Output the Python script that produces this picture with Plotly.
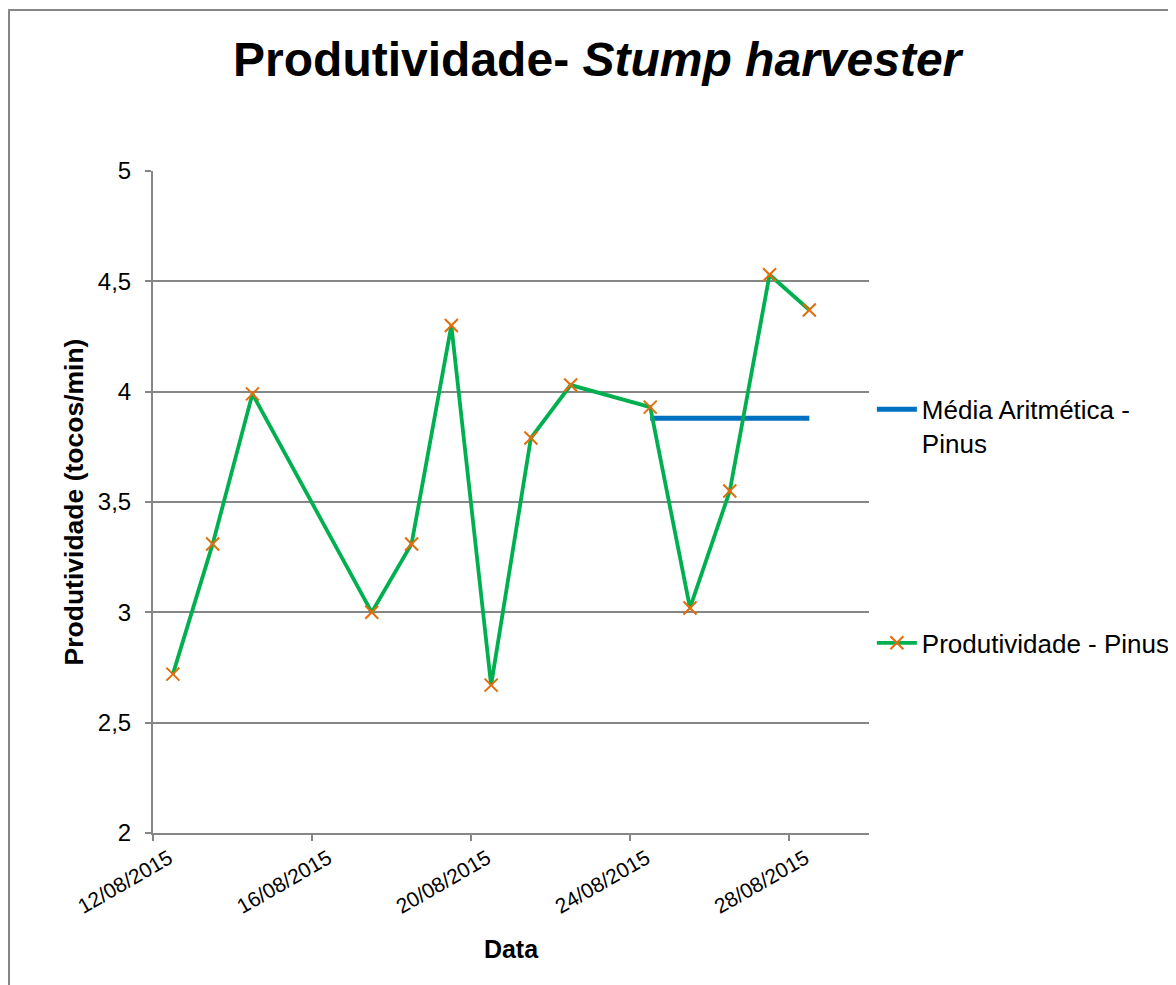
import plotly.graph_objects as go
import pandas as pd

# ---- data ----
dates = ["2015-08-12", "2015-08-13", "2015-08-14", "2015-08-17", "2015-08-18",
         "2015-08-19", "2015-08-20", "2015-08-21", "2015-08-22", "2015-08-24",
         "2015-08-25", "2015-08-26", "2015-08-27", "2015-08-28"]
produtividade = [2.72, 3.31, 3.99, 3.00, 3.31, 4.30, 2.67, 3.79, 4.03, 3.93,
                 3.02, 3.55, 4.53, 4.37]
media_dates = ["2015-08-24", "2015-08-25", "2015-08-26", "2015-08-27", "2015-08-28"]
media_values = [3.88, 3.88, 3.88, 3.88, 3.88]
tick_dates = ["2015-08-12", "2015-08-16", "2015-08-20", "2015-08-24", "2015-08-28"]
tick_labels = ["12/08/2015", "16/08/2015", "20/08/2015", "24/08/2015", "28/08/2015"]

# Excel-style date axis: each day occupies a slot; points sit mid-slot
half_day = pd.Timedelta(hours=12)
x_prod = pd.to_datetime(dates) + half_day
x_media = pd.to_datetime(media_dates) + half_day

FONT = "Liberation Sans, Arial, sans-serif"
GRAY = "#868686"

L, R, T, B = 145, 315, 163, 160
PW, PH = 1176 - L - R, 985 - T - B

fig = go.Figure()
fig.add_trace(go.Scatter(
    x=x_media, y=media_values, mode="lines",
    name="Média Aritmética -<br>Pinus",
    line=dict(color="#0070C0", width=5),
    legendgroup="a",
))
fig.add_trace(go.Scatter(
    x=x_prod, y=produtividade, mode="lines+markers",
    name="Produtividade - Pinus",
    line=dict(color="#00B050", width=3.8),
    marker=dict(symbol="x-thin", size=13, line=dict(width=2, color="#E46C0A"),
                color="#E46C0A"),
    legendgroup="b",
))

fig.update_layout(
    width=1176, height=985,
    margin=dict(l=L, r=R, t=T, b=B, autoexpand=False),
    paper_bgcolor="white", plot_bgcolor="white",
    separators=",.",
    font=dict(family=FONT, color="black", size=22),
    title=dict(
        text="<b>Produtividade- <i>Stump harvester</i></b>",
        x=0.501, xref="container", xanchor="center",
        y=0.948, yref="container", yanchor="middle",
        font=dict(family=FONT, size=48, color="black"),
    ),
    showlegend=True,
    legend=dict(
        x=1.004, xref="paper", xanchor="left",
        y=0.6755, yanchor="top",
        font=dict(family=FONT, size=26, color="black"),
        tracegroupgap=163,
        valign="top",
        bgcolor="rgba(0,0,0,0)",
        itemwidth=40,
    ),
    xaxis=dict(
        type="date",
        range=["2015-08-12", "2015-08-30"],
        tickvals=tick_dates, ticktext=tick_labels,
        tickangle=-30,
        ticks="outside", ticklen=6, tickwidth=2, tickcolor=GRAY,
        ticklabelshift=16, ticklabelstandoff=-3,
        showline=True, linecolor=GRAY, linewidth=2,
        showgrid=False, zeroline=False,
        tickfont=dict(family=FONT, size=21, color="black"),
        title=dict(text="<b>Data</b>", font=dict(family=FONT, size=25, color="black"),
                   standoff=24),
    ),
    yaxis=dict(
        range=[2, 5], dtick=0.5, tick0=2,
        ticks="outside", ticklen=6, tickwidth=2, tickcolor=GRAY,
        ticklabelstandoff=9,
        showline=True, linecolor=GRAY, linewidth=2,
        showgrid=True, gridcolor=GRAY, gridwidth=1.5,
        zeroline=False,
        tickfont=dict(family=FONT, size=24, color="black"),
        title=dict(text="<b>Produtividade (tocos/min)</b>",
                   font=dict(family=FONT, size=26.5, color="black"), standoff=7),
    ),
)

# outer chart border (Excel chart area)
fig.add_shape(type="rect", xref="paper", yref="paper",
              x0=(1 - L) / PW, x1=(1200 - L) / PW,
              y0=(T + PH - 1010) / PH, y1=(T + PH - 2) / PH,
              line=dict(color=GRAY, width=2), fillcolor="rgba(0,0,0,0)", layer="below")

fig.write_html("out.html")
